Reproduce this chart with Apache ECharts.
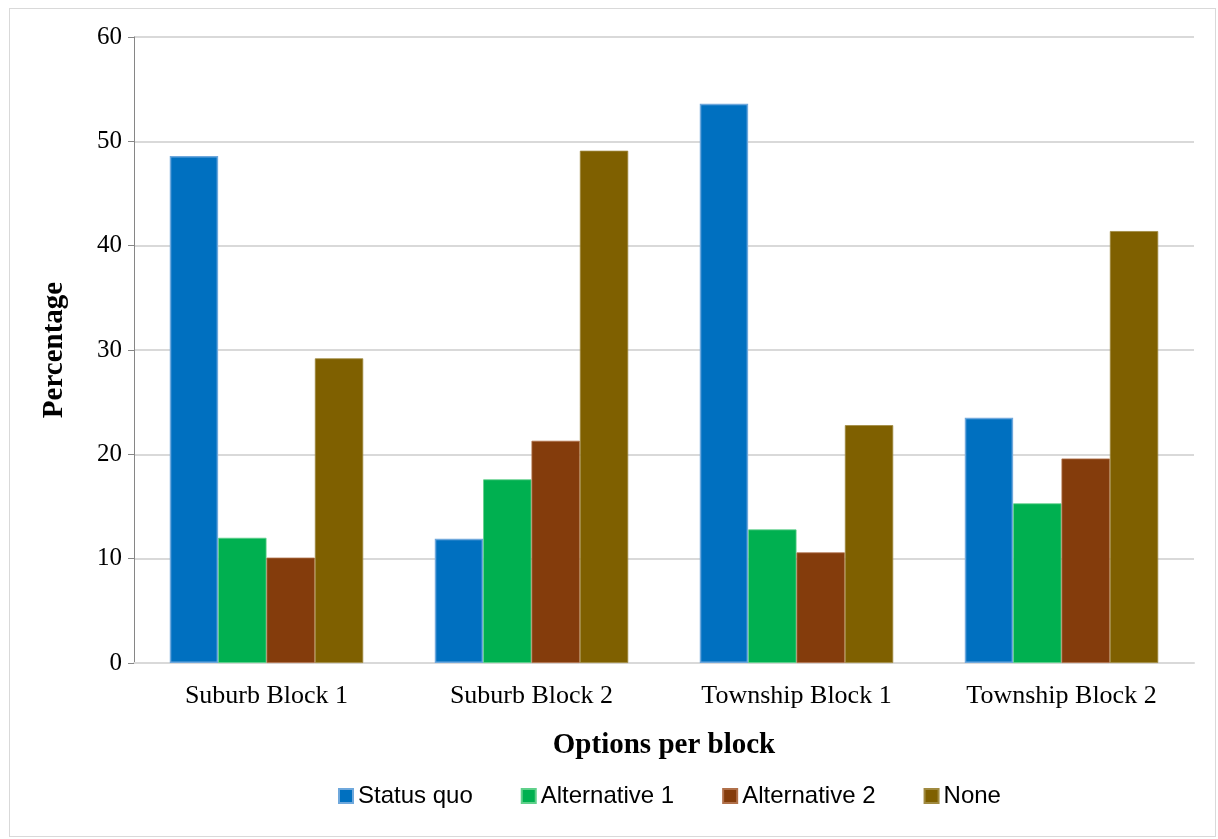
<!DOCTYPE html>
<html>
<head>
<meta charset="utf-8">
<script src="https://cdn.jsdelivr.net/npm/echarts@6/dist/echarts.min.js"></script>
<style>
  html, body { margin: 0; padding: 0; background: #fff; }
  #frame {
    position: absolute; left: 9px; top: 8px; width: 1207px; height: 829px;
    border: 1px solid #d9d9d9; box-sizing: border-box;
  }
  #chart { width: 1218px; height: 839px; }
</style>
</head>
<body>
<div id="frame"></div>
<div id="chart"></div>
<script>
// 数据
const categories = ['Suburb Block 1', 'Suburb Block 2', 'Township Block 1', 'Township Block 2'];
const seriesNames = ['Status quo', 'Alternative 1', 'Alternative 2', 'None'];
const statusQuo = [48.6, 11.9, 53.6, 23.5];
const alternative1 = [12.0, 17.6, 12.8, 15.3];
const alternative2 = [10.1, 21.3, 10.6, 19.6];
const none = [29.2, 49.1, 22.8, 41.4];
const yTicks = [0, 10, 20, 30, 40, 50, 60];

const colors = ['#0070c0', '#00b050', '#843c0c', '#7f6000'];
const borders = ['#6fa8dc', '#5fd08a', '#b0704a', '#a08a40'];
const font = '"Liberation Serif", "Times New Roman", serif';
const legendFont = '"Liberation Sans", Arial, sans-serif';

const chart = echarts.init(document.getElementById('chart'));

const option = {
  animation: false,
  textStyle: { fontFamily: font },
  grid: { left: 134, right: 24, top: 37, bottom: 176 },
  legend: {
    data: seriesNames,
    top: 784,
    left: 338,
    padding: 0,
    itemWidth: 14,
    itemHeight: 14,
    itemGap: 48,
    icon: 'rect',
    textStyle: { fontFamily: legendFont, fontSize: 24, color: '#000' }
  },
  xAxis: {
    type: 'category',
    data: categories,
    name: 'Options per block',
    nameLocation: 'middle',
    nameGap: 68,
    nameTextStyle: { fontFamily: font, fontSize: 29, fontWeight: 'bold', color: '#000' },
    axisLine: { lineStyle: { color: '#d9d9d9', width: 2 } },
    axisTick: { show: false },
    axisLabel: { fontFamily: font, fontSize: 26, color: '#000', margin: 20 }
  },
  yAxis: {
    type: 'value',
    min: 0,
    max: 60,
    interval: 10,
    name: 'Percentage',
    nameLocation: 'middle',
    nameGap: 65,
    nameTextStyle: { fontFamily: font, fontSize: 29, fontWeight: 'bold', color: '#000' },
    axisLine: { show: true, lineStyle: { color: '#868686', width: 1 } },
    axisTick: { show: true, length: 6, lineStyle: { color: '#868686' } },
    axisLabel: {
      fontFamily: font, fontSize: 25, color: '#000', margin: 12,
      formatter: v => yTicks.includes(v) ? String(v) : ''
    },
    splitLine: { lineStyle: { color: '#d9d9d9', width: 2 } }
  },
  series: [statusQuo, alternative1, alternative2, none].map((vals, i) => ({
    name: seriesNames[i],
    type: 'bar',
    data: vals,
    barGap: '0%',
    barCategoryGap: '27%',
    itemStyle: {
      color: colors[i],
      borderColor: borders[i],
      borderWidth: i === 0 ? 1.5 : 0.8
    }
  }))
};

chart.setOption(option);
</script>
</body>
</html>
